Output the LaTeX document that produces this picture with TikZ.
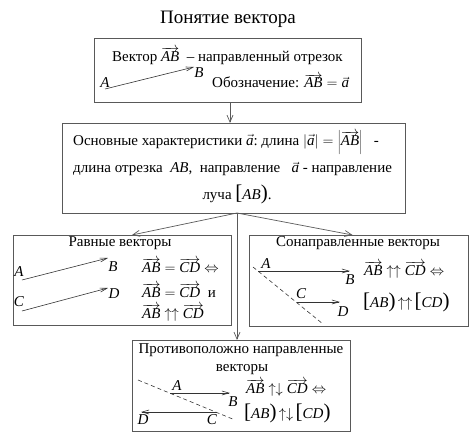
\documentclass[tikz,border=0pt]{standalone}
\usepackage{fontspec}
\setmainfont{Liberation Serif}
\usetikzlibrary{arrows.meta}
\newcommand{\vAB}{\overrightarrow{\mbox{\itshape AB}}}
\newcommand{\vCD}{\overrightarrow{\mbox{\itshape CD}}}
\newcommand{\va}{\vec{\mbox{\itshape a}}}
\newcommand{\iAB}{\mbox{\itshape AB}}
\newcommand{\iCD}{\mbox{\itshape CD}}
\newcommand{\lbrk}{{\fontsize{21}{21}\selectfont[}}
\newcommand{\rprn}{{\fontsize{21}{21}\selectfont)}}
\begin{document}
\begin{tikzpicture}[x=1pt,y=-1pt,
  box/.style={draw=black!65, line width=0.7pt, rectangle, inner sep=0pt, outer sep=0pt},
  txt/.style={inner sep=0pt, font=\fontsize{15}{17}\selectfont},
  ttl/.style={inner sep=0pt, font=\fontsize{19}{21}\selectfont},
  lbl/.style={inner sep=0pt, font=\fontsize{15}{17}\selectfont\itshape},
  vecline/.style={draw=black!80, line width=0.6pt, -{Straight Barb[length=7pt,width=4pt]}},
  conn/.style={draw=black!65, line width=0.7pt, -{Straight Barb[length=7pt,width=6pt]}},
  dashln/.style={draw=black!80, line width=0.6pt, dash pattern=on 4pt off 3pt}
]
\useasboundingbox (0,0) rectangle (474,436);
% boxes
\node[box, minimum width=267pt, minimum height=64pt] (b1) at (227.5,70) {};
\node[box, minimum width=343pt, minimum height=90pt] (b2) at (233.5,168) {};
\node[box, minimum width=218pt, minimum height=90pt] (lb) at (122,280) {};
\node[box, minimum width=219pt, minimum height=91pt] (rb) at (358.5,280.5) {};
\node[box, minimum width=218pt, minimum height=91pt] (bb) at (241,385.5) {};
% title
\node[ttl] (title) at (228,19) {Понятие вектора};
% box 1
\node[txt, anchor=west] (t1a) at (112,56) {Вектор $\vAB$\ \ – направленный отрезок};
\node[txt, anchor=west] (t1b) at (212,81) {Обозначение: $\vAB=\va$};
\coordinate (pA1) at (105,89);
\coordinate (pB1) at (194,67);
\draw[vecline] (pA1) -- (pB1);
\node[lbl] (lA1) at (105,83) {A};
\node[lbl] (lB1) at (199,73) {B};
% box 2
\node[txt, anchor=west] (t2a) at (73,142) {Основные характеристики $\va$:\ длина $\left|\va\right|=\left|\vAB\right|$\ \ \ -};
\node[txt, anchor=west] (t2b) at (73,169) {длина отрезка \ \textit{AB},\ \ направление\ \ \ $\va$ - направление};
\node[txt] (t2c) at (237,194) {луча \lbrk\iAB\rprn.};
% left box
\node[txt] (tl) at (120,243) {Равные векторы};
\coordinate (pA2) at (22,280);
\coordinate (pB2) at (108,258);
\coordinate (pC2) at (22,311);
\coordinate (pD2) at (108,288);
\draw[vecline] (pA2) -- (pB2);
\draw[vecline] (pC2) -- (pD2);
\node[lbl] (lA2) at (19,272) {A};
\node[lbl] (lB2) at (113,267) {B};
\node[lbl] (lC2) at (19,302) {C};
\node[lbl] (lD2) at (114,294) {D};
\node[txt, anchor=west] (tl1) at (142,265) {$\vAB=\vCD\Leftrightarrow$};
\node[txt, anchor=west] (tl2) at (142,290) {$\vAB=\vCD$\ \ и};
\node[txt, anchor=west] (tl3) at (142,313) {$\vAB\uparrow\uparrow\vCD$};
% right box
\node[txt] (tr) at (358,243) {Сонаправленные векторы};
\coordinate (d1s) at (253,267);
\coordinate (d1e) at (323,324);
\draw[dashln] (d1s) -- (d1e);
\coordinate (pA3) at (258,271);
\coordinate (pB3) at (350,271);
\coordinate (pC3) at (297,302);
\coordinate (pD3) at (340,302);
\draw[vecline] (pA3) -- (pB3);
\draw[vecline] (pC3) -- (pD3);
\node[lbl] (lA3) at (266,264) {A};
\node[lbl] (lB3) at (350,280) {B};
\node[lbl] (lC3) at (301,294) {C};
\node[lbl] (lD3) at (343,312) {D};
\node[txt, anchor=west] (tr1) at (364,270) {$\vAB\uparrow\uparrow\vCD\Leftrightarrow$};
\node[txt, anchor=west] (tr2) at (363,302) {\lbrk\iAB\rprn$\,\uparrow\uparrow\,$\lbrk\iCD\rprn};
% bottom box
\node[txt] (tb1) at (241,350) {Противоположно направленные};
\node[txt] (tb2) at (242,370) {векторы};
\coordinate (d2s) at (138,380);
\coordinate (d2e) at (235,420);
\draw[dashln] (d2s) -- (d2e);
\coordinate (pA4) at (170,393);
\coordinate (pB4) at (230,393);
\coordinate (pC4) at (217,412);
\coordinate (pD4) at (141,412);
\draw[vecline] (pA4) -- (pB4);
\draw[vecline] (pC4) -- (pD4);
\node[lbl] (lA4) at (177,386) {A};
\node[lbl] (lB4) at (233,402) {B};
\node[lbl] (lC4) at (212,420) {C};
\node[lbl] (lD4) at (143,420) {D};
\node[txt, anchor=west] (tb3) at (246,388) {$\vAB\uparrow\downarrow\vCD\Leftrightarrow$};
\node[txt, anchor=west] (tb4) at (244,413) {\lbrk\iAB\rprn$\,\uparrow\downarrow\,$\lbrk\iCD\rprn};
% connectors
\draw[conn] ([xshift=2.5pt]b1.south) -- ([xshift=2.5pt]b1.south |- b2.north);
\coordinate (split) at ([xshift=3.5pt]b2.south);
\draw[conn] (split) -- ([xshift=10pt]lb.north);
\draw[conn] (split) -- ([xshift=-6pt]rb.north);
\draw[conn] (split) -- (split |- bb.north);
\end{tikzpicture}
\end{document}
